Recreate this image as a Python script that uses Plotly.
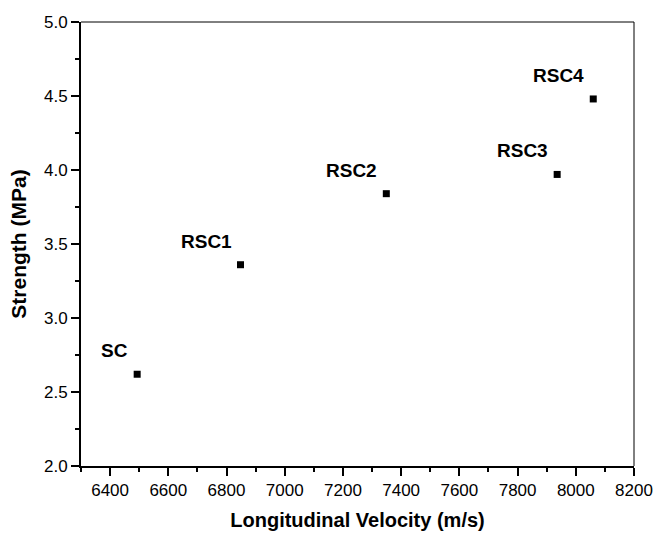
import plotly.graph_objects as go

samples = ["SC", "RSC1", "RSC2", "RSC3", "RSC4"]
velocity = [6493, 6848, 7349, 7936, 8060]
strength = [2.62, 3.36, 3.84, 3.97, 4.48]

x_ticks = [6400, 6600, 6800, 7000, 7200, 7400, 7600, 7800, 8000, 8200]
y_ticks = [2.0, 2.5, 3.0, 3.5, 4.0, 4.5, 5.0]

FONT = "Liberation Sans, Arial, sans-serif"

fig = go.Figure()
fig.add_trace(go.Scatter(
    x=velocity, y=strength, mode="markers",
    marker=dict(symbol="square", size=7, color="black"),
    showlegend=False, hoverinfo="skip"))

for s, vx, vy in zip(samples, velocity, strength):
    fig.add_annotation(
        x=vx, y=vy, text="<b>%s</b>" % s, showarrow=False,
        xanchor="right", yanchor="bottom", xshift=-7, yshift=11,
        font=dict(family=FONT, size=19, color="black"))

axis_common = dict(
    showgrid=False, zeroline=False, showline=True, linecolor="black",
    linewidth=2, ticks="outside", ticklen=8, tickwidth=2, tickcolor="black",
    tickfont=dict(family=FONT, size=17, color="black"), automargin=False,
    minor=dict(ticks="outside", ticklen=4, tickwidth=2, tickcolor="black"),
)

fig.update_xaxes(
    range=[6300, 8200], tickvals=x_ticks, ticktext=[str(v) for v in x_ticks],
    minor_dtick=100, minor_tick0=6300,
    title=dict(text="<b>Longitudinal Velocity (m/s)</b>",
               font=dict(family=FONT, size=20, color="black"), standoff=14),
    **axis_common)
fig.update_yaxes(
    range=[2.0, 5.0], tickvals=y_ticks, ticktext=["%.1f" % v for v in y_ticks],
    minor_dtick=0.25, minor_tick0=2.0,
    title=dict(text="<b>Strength (MPa)</b>",
               font=dict(family=FONT, size=21, color="black"), standoff=12),
    **axis_common)

# thin top and right frame lines
fig.add_shape(type="line", xref="paper", yref="paper", x0=0, x1=1, y0=1, y1=1,
              line=dict(color="black", width=1))
fig.add_shape(type="line", xref="paper", yref="paper", x0=1, x1=1, y0=0, y1=1,
              line=dict(color="black", width=1))

fig.update_layout(
    width=667, height=533,
    margin=dict(l=81, r=33, t=22, b=67),
    paper_bgcolor="white", plot_bgcolor="white",
    font=dict(family=FONT, color="black"),
)

fig.write_html("out.html", config={"displayModeBar": False},
               post_script="document.body.style.margin='0';document.body.style.overflow='hidden';")
